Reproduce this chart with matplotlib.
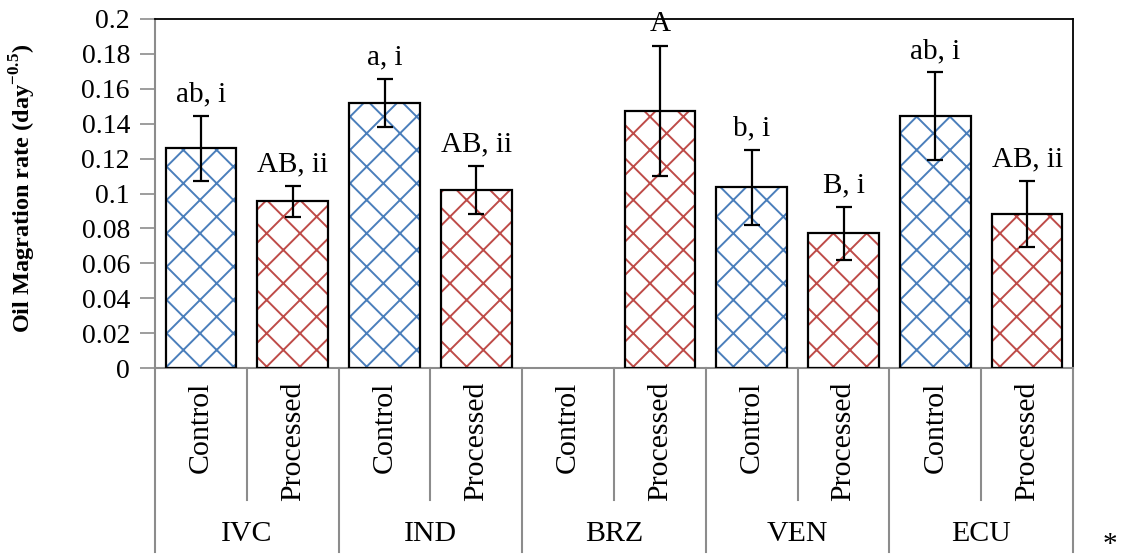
import numpy as np
import matplotlib.pyplot as plt
from matplotlib.ticker import FuncFormatter, MultipleLocator

plt.rcParams['font.family'] = 'Liberation Serif'
plt.rcParams['mathtext.fontset'] = 'custom'
plt.rcParams['mathtext.rm'] = 'Liberation Serif'
plt.rcParams['mathtext.bf'] = 'Liberation Serif:bold'
plt.rcParams['hatch.linewidth'] = 1.4

# data
groups = ['IVC', 'IND', 'BRZ', 'VEN', 'ECU']
treatments = ['Control', 'Processed']

control = [0.126, 0.152, np.nan, 0.1036, 0.1444]
control_err = [0.0186, 0.0137, np.nan, 0.0215, 0.0250]
processed = [0.0955, 0.102, 0.1475, 0.0772, 0.0884]
processed_err = [0.0089, 0.0140, 0.0372, 0.0153, 0.0190]

control_labels = ['ab, i', 'a, i', '', 'b, i', 'ab, i']
processed_labels = ['AB, ii', 'AB, ii', 'A', 'B, i', 'AB, ii']

blue = '#4a7ebb'
red = '#be4b48'
gray = '#8c8c8c'

fig = plt.figure(figsize=(11.31, 5.59), dpi=100)
ax = fig.add_axes([155/1131, 1 - 368/559, 918/1131, 349/559])

series = [(control, control_err, control_labels, blue),
          (processed, processed_err, processed_labels, red)]

for t, (vals, errs, labs, col) in enumerate(series):
    vals = np.array(vals)
    errs = np.array(errs)
    x = np.arange(len(groups)) * 2 + t + 0.5
    ok = ~np.isnan(vals)
    # white fill, coloured hatch, black outline
    ax.bar(x[ok], vals[ok], width=0.77, facecolor='white', edgecolor='none',
           zorder=2)
    ax.bar(x[ok], vals[ok], width=0.77, facecolor='none', edgecolor=col,
           linewidth=0, hatch='x', zorder=3)
    ax.bar(x[ok], vals[ok], width=0.77, facecolor='none', edgecolor='black',
           linewidth=1.6, zorder=4)
    ax.errorbar(x[ok], vals[ok], yerr=errs[ok], fmt='none', ecolor='black',
                elinewidth=1.6, capsize=6, capthick=1.6, zorder=5)
    for xi, v, e, lab in zip(x[ok], vals[ok], errs[ok], np.array(labs)[ok]):
        ax.annotate(lab, (xi, v + e), xytext=(0, 6), textcoords='offset points',
                    ha='center', va='bottom', fontsize=21)

ax.set_xlim(0, len(groups) * 2)
ax.set_ylim(0, 0.2)
ax.yaxis.set_major_locator(MultipleLocator(0.02))
ax.yaxis.set_major_formatter(FuncFormatter(lambda v, p: '{:g}'.format(round(v, 2))))
ax.tick_params(axis='y', direction='out', length=11, width=1.2, color=gray,
               labelsize=20, pad=7)
ax.set_xticks([])

for s in ['left', 'bottom']:
    ax.spines[s].set_color(gray)
    ax.spines[s].set_linewidth(1.5)
for s in ['top', 'right']:
    ax.spines[s].set_color('black')
    ax.spines[s].set_linewidth(1.3)

# multi-level category axis
trans = ax.get_xaxis_transform()
for k in range(len(groups) * 2 + 1):
    y_end = -0.527 if k % 2 == 0 else -0.378
    ax.plot([k, k], [0, y_end], transform=trans, color=gray, lw=1.5,
            clip_on=False)
for g, name in enumerate(groups):
    for t, tr in enumerate(treatments):
        ax.text(2 * g + t + 0.5, -0.04, tr, transform=trans, rotation=90,
                ha='center', va='top', fontsize=21.5)
    ax.text(2 * g + 1, -0.476, name, transform=trans, ha='center',
            va='center', fontsize=21.5)

ax.set_ylabel(r'Oil Magration rate (day$^{\mathbf{-0.5}}$)', fontsize=17.5,
              fontweight='bold')
ax.yaxis.set_label_coords(-0.1275, 0.516)

fig.text(1110/1131, 1 - 545/559, '*', fontsize=21, ha='center', va='center')

fig.savefig('out.png', dpi=100)
